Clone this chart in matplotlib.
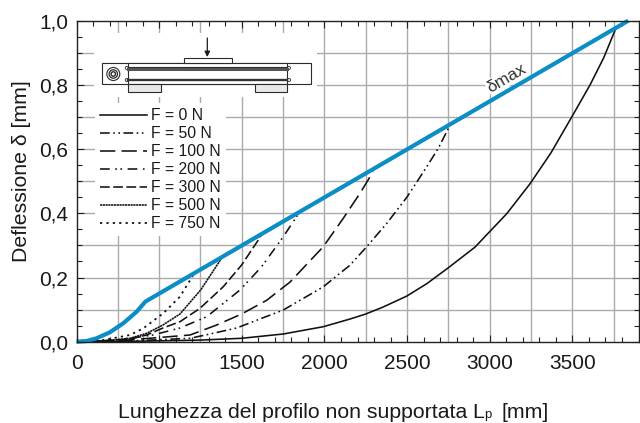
import matplotlib
matplotlib.use('Agg')

import matplotlib.pyplot as plt
from matplotlib.patches import Rectangle, Circle
import numpy as np

plt.rcParams['font.family'] = ['Liberation Sans', 'DejaVu Sans']
plt.rcParams['lines.scale_dashes'] = False

# x values are positions along the axis; the printed labels skip 1000
x_tick_pos = [0, 500, 1000, 1500, 2000, 2500, 3000]
x_tick_labels = ['0', '500', '1500', '2000', '2500', '3000', '3500']
y_tick_pos = [0.0, 0.2, 0.4, 0.6, 0.8, 1.0]
y_tick_labels = ['0,0', '0,2', '0,4', '0,6', '0,8', '1,0']

blue_x = [0, 60, 121, 201, 282, 363, 417, 3338]
blue_y = [0, 0.002, 0.0106, 0.029, 0.057, 0.093, 0.125, 1.0]

f0_x = [0, 445, 747, 999, 1251, 1493, 1655, 1750, 1854, 1998, 2119, 2250, 2411, 2497, 2603, 2744, 2870, 2996, 3107, 3190, 3262]
f0_y = [0, 0.002, 0.005, 0.0106, 0.024, 0.0467, 0.0707, 0.0863, 0.1078, 0.1421, 0.1807, 0.2305, 0.2947, 0.3414, 0.3988, 0.4922, 0.588, 0.70, 0.80, 0.885, 0.975]
f50_x = [0, 300, 523, 687, 808, 969, 1251, 1493, 1655, 1756, 1877, 1998, 2119, 2189, 2260]
f50_y = [0, 0.002, 0.0068, 0.0106, 0.024, 0.0427, 0.0988, 0.171, 0.2386, 0.296, 0.3687, 0.4496, 0.545, 0.6028, 0.675]
f100_x = [0, 250, 463, 687, 848, 999, 1151, 1292, 1493, 1614, 1715, 1795]
f100_y = [0, 0.003, 0.0115, 0.0209, 0.052, 0.0863, 0.1292, 0.1859, 0.296, 0.3844, 0.4623, 0.53]
f200_x = [0, 250, 463, 626, 788, 989, 1120, 1251, 1345]
f200_y = [0, 0.005, 0.0209, 0.0427, 0.0779, 0.161, 0.2336, 0.3271, 0.40]
f300_x = [0, 150, 324, 425, 523, 626, 747, 888, 999, 1100, 1122]
f300_y = [0, 0.002, 0.0084, 0.0209, 0.0427, 0.0623, 0.104, 0.1713, 0.239, 0.3168, 0.3355]
f500_x = [0, 150, 324, 425, 523, 626, 751, 875]
f500_y = [0, 0.002, 0.0106, 0.0262, 0.052, 0.0863, 0.161, 0.258]
f750_x = [0, 150, 324, 404, 525, 626, 700, 717]
f750_y = [0, 0.004, 0.0209, 0.0417, 0.0885, 0.1402, 0.2025, 0.217]

W, H = 640, 423
fig = plt.figure(figsize=(6.4, 4.23), dpi=100, facecolor='white')
ax = fig.add_axes([76.5 / W, 1 - 341.7 / H, 562 / W, 321 / H])

ax.set_xlim(0, 3400)
ax.set_ylim(0, 1.0)

# grid
for gx in np.arange(250, 3400, 250):
    ax.axvline(gx, color='#ababab', lw=1.0, zorder=1)
for gy in np.arange(0.1, 1.0, 0.1):
    ax.axhline(gy, color='#ababab', lw=1.0, zorder=1)

black = '#111111'
lw = 1.15
ax.plot(f0_x, f0_y, color=black, lw=lw, label='F = 0 N', zorder=3)
ax.plot(f50_x, f50_y, color=black, lw=lw, dashes=(7, 2.5, 1.2, 2.5, 1.2, 2.5), label='F = 50 N', zorder=3)
ax.plot(f100_x, f100_y, color=black, lw=lw, dashes=(11, 4.5), label='F = 100 N', zorder=3)
ax.plot(f200_x, f200_y, color=black, lw=lw, dashes=(7, 4, 1.2, 2.5, 1.2, 4), label='F = 200 N', zorder=3)
ax.plot(f300_x, f300_y, color=black, lw=lw, dashes=(7, 2.5), label='F = 300 N', zorder=3)
ax.plot(f500_x, f500_y, color=black, lw=lw, dashes=(1.6, 0.4), label='F = 500 N', zorder=3)
ax.plot(f750_x, f750_y, color=black, lw=1.3, dashes=(1.6, 3), label='F = 750 N', zorder=3)
ax.plot(blue_x, blue_y, color='#0b8ec6', lw=3.0, solid_capstyle='butt', clip_on=False, zorder=4)

ax.set_xticks(x_tick_pos)
ax.set_xticklabels(x_tick_labels, fontsize=15, color='#1a1a1a')
ax.set_yticks(y_tick_pos)
ax.set_yticklabels(y_tick_labels, fontsize=15, color='#1a1a1a')
ax.set_xticks(np.arange(0, 3400, 100), minor=True)
ax.set_yticks(np.arange(0, 1.0, 0.05), minor=True)
ax.tick_params(which='major', direction='in', top=True, right=True, length=5, width=0.8, color='#222222')
ax.tick_params(which='minor', direction='in', top=True, right=True, length=3.5, width=0.8, color='#222222')
ax.tick_params(axis='x', which='major', pad=9)
ax.tick_params(axis='y', which='major', pad=6)
for s in ax.spines.values():
    s.set_linewidth(1.0)
    s.set_color('#222222')
    s.set_zorder(6)

leg = ax.legend(loc='upper left', bbox_to_anchor=(0.033, 0.7436), borderaxespad=0, borderpad=0.33,
                frameon=True, facecolor='white', edgecolor='none', framealpha=1, fancybox=False,
                fontsize=11.3, handlelength=2.95, handletextpad=0.3, labelspacing=0.19, labelcolor='#1a1a1a')
leg.set_zorder(5)

# overlay in pixel coordinates for the beam drawing and the labels
ov = fig.add_axes([0, 0, 1, 1], facecolor='none', zorder=5)
ov.set_xlim(0, W)
ov.set_ylim(H, 0)
ov.axis('off')

ov.add_patch(Rectangle((94, 33), 223, 64, fc='white', ec='none'))
dark = '#2a2a2a'
ov.add_patch(Rectangle((101.7, 63.3), 209, 21, fc='white', ec=dark, lw=0.8))
ov.add_patch(Rectangle((128.3, 63.3), 159, 21, fc='white', ec=dark, lw=0.8))
ov.add_patch(Rectangle((183.7, 58), 48.3, 5.3, fc='white', ec=dark, lw=0.8))
ov.add_patch(Rectangle((128.3, 84.3), 32.4, 7.7, fc='#e8eaea', ec=dark, lw=0.8))
ov.add_patch(Rectangle((255, 84.3), 32.3, 7.7, fc='#e8eaea', ec=dark, lw=0.8))
ov.plot([128.3, 287.3], [67.5, 67.5], color=dark, lw=0.8)
ov.plot([128.3, 287.3], [69.3, 69.3], color='#555555', lw=2.2)
ov.plot([128.3, 287.3], [79.8, 79.8], color='#333333', lw=1.7)
for cx in (126.7, 289):
    for cy in (68, 80):
        ov.add_patch(Circle((cx, cy), 1.5, fc='white', ec=dark, lw=0.6))
for r, w in ((6.5, 0.8), (4.2, 0.9), (2.2, 1.0)):
    ov.add_patch(Circle((113.3, 74), r, fc='none', ec=dark, lw=w))
ov.annotate('', xy=(207.3, 57), xytext=(207.3, 38),
            arrowprops=dict(arrowstyle='-|>', color='#1a1a1a', lw=0.9, mutation_scale=8, shrinkA=0, shrinkB=0))

ov.text(506.5, 78, 'δmax', rotation=30, fontsize=12.5, color='#333333', ha='center', va='center',
        rotation_mode='anchor', bbox=dict(fc='white', ec='none', pad=0.5))

ov.text(22, 171, 'Deflessione δ [mm]', rotation=90, fontsize=15.3, color='#1a1a1a', ha='center', va='center')
ov.text(118, 418, 'Lunghezza del profilo non supportata', fontsize=15.3, color='#1a1a1a', ha='left', va='baseline')
ov.text(472, 418, 'L', fontsize=15.3, color='#1a1a1a', ha='left', va='baseline')
ov.text(484.5, 418, 'p', fontsize=9.5, color='#1a1a1a', ha='left', va='baseline')
ov.text(501.5, 418, '[mm]', fontsize=15.3, color='#1a1a1a', ha='left', va='baseline')

plt.savefig('out.png', dpi=100, facecolor='white')
plt.close()
